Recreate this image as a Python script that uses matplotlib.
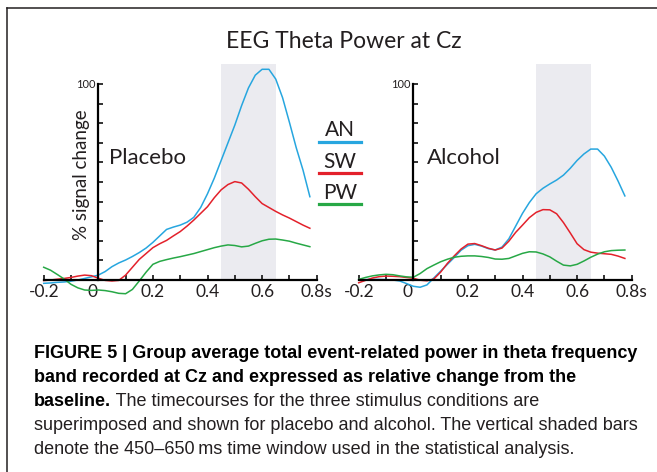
import matplotlib
matplotlib.use('Agg')
import matplotlib.pyplot as plt
from matplotlib.lines import Line2D
from matplotlib.transforms import ScaledTranslation
import numpy as np

# time axis (s), read every 25 ms from -0.2 to 0.775
t = np.round(np.arange(-0.2, 0.776, 0.025), 3)

# placebo
plc_an = [-1.7, -1.5, -1.2, -1.0, -0.6, 0.0, 0.8, 1.6, 2.5, 4.3, 6.8, 8.7, 10.2, 12, 14, 16.3,
          19.2, 22.5, 25.8, 27.0, 28, 29.5, 32, 37, 44, 52, 61, 70, 79, 89, 98, 104.5, 107.5,
          107.5, 102.5, 93, 80.5, 67.5, 56, 42.5]
plc_sw = [-0.3, 0.0, 0.4, 0.8, 1.3, 2.0, 2.5, 2.2, 0.9, -0.2, -0.5, -0.2, 2.5, 6.5, 10.5, 13.5,
          16.5, 18.5, 20.2, 22.5, 24.7, 27.5, 30.6, 34, 37.4, 42, 46, 48.7, 50.2, 49.5, 46.3,
          42.5, 39, 37, 35, 33.2, 31.6, 29.8, 28, 26.4]
plc_pw = [6.5, 5.0, 2.8, 0.5, -2.2, -4.0, -5.1, -5.3, -5.1, -5.4, -6.0, -6.8, -7.0, -4.8, -0.5,
          4.0, 8.0, 9.5, 10.4, 11.2, 11.9, 12.7, 13.5, 14.5, 15.5, 16.5, 17.3, 17.9, 17.6, 16.9,
          17.3, 18.7, 20, 20.8, 20.9, 20.4, 19.8, 18.8, 17.9, 17]

# alcohol
alc_an = [0, 0.2, 0.3, 0.3, 0.2, 0, -0.5, -1.8, -3.2, -3.7, -2.5, 1.0, 4.5, 8.0, 11.5, 15.2,
          17.5, 18.2, 17.3, 16.0, 15.3, 16.8, 21.0, 27.5, 34.0, 39.5, 44.0, 46.8, 49.0, 51.0,
          53.5, 57.0, 61.0, 64.3, 66.8, 66.8, 63.2, 57.5, 50.5, 42.9]
alc_sw = [-1.4, -0.2, 1.0, 1.7, 2.0, 1.9, 1.7, 1.3, 0.9, -0.1, -0.4, 0.5, 4.0, 8.5, 12.3, 15.8,
          18.3, 18.6, 17.5, 16.2, 15.3, 16.3, 19.8, 24.3, 28.0, 31.8, 34.5, 35.9, 35.8, 33.8,
          29.3, 24.0, 18.5, 15.5, 14.2, 13.7, 13.4, 13.1, 12.2, 11]
alc_pw = [0.3, 1.3, 2.1, 2.6, 2.9, 2.7, 2.1, 1.6, 1.4, 3.3, 5.8, 7.6, 9.3, 10.6, 11.6, 12.1,
          12.3, 12.3, 12.0, 11.5, 10.7, 10.6, 11.0, 12.3, 13.6, 14.4, 14.3, 13.3, 11.8, 9.6,
          7.6, 7.2, 8.0, 9.7, 11.6, 13.2, 14.4, 15.0, 15.2, 15.3]

conditions = ['AN', 'SW', 'PW']
colors = ['#27a6df', '#e3212b', '#27a846']
window = (0.45, 0.65)
xtick_vals = [-0.2, 0, 0.2, 0.4, 0.6, 0.8]
xtick_labels = ['-0.2', '0', '0.2', '0.4', '0.6', '0.8s']

FONT = ['Lato', 'DejaVu Sans']
CAPFONT = ['Liberation Sans Narrow', 'Liberation Sans', 'DejaVu Sans']

W, H = 657, 472
fig = plt.figure(figsize=(W / 100, H / 100), dpi=100)
fig.patch.set_facecolor('white')


def fx(x):
    return x / W


def fy(y):
    return 1 - y / H


def panel(x0, data, name, name_x):
    ax = fig.add_axes([fx(x0), fy(299.6), 273 / W, 235.2 / H])
    ax.set_xlim(-0.2, 0.8)
    ax.set_ylim(-10, 110)
    ax.fill_between(window, 0, 110, color='#ebebf0', lw=0, zorder=0)
    for vals, c in zip(data, colors):
        ax.plot(t, vals, color=c, lw=1.1, clip_on=False, zorder=3)
    for s in ['top', 'right']:
        ax.spines[s].set_visible(False)
    ax.spines['left'].set_position(('data', 0))
    ax.spines['bottom'].set_position(('data', 0))
    ax.spines['left'].set_bounds(0, 100)
    ax.spines['bottom'].set_bounds(-0.2, 0.8)
    for s in ['left', 'bottom']:
        ax.spines[s].set_linewidth(1.6)
        ax.spines[s].set_zorder(4)
    ax.set_xticks(xtick_vals)
    ax.set_xticklabels(xtick_labels, family=FONT, fontsize=12.5, color='#231f20')
    ax.set_xticks([-0.1, 0.1, 0.3, 0.5, 0.7], minor=True)
    ax.set_yticks(range(0, 101, 10))
    ax.set_yticklabels([''] * 10 + ['100'], family=FONT, fontsize=8, color='#231f20')
    ax.tick_params(axis='both', which='both', direction='in', length=3.5, width=1.2, color='#111111')
    ax.tick_params(axis='x', pad=3)
    ax.tick_params(axis='y', pad=2)
    # the "0" label sits a little left of the y axis
    zero = ax.get_xticklabels()[1]
    zero.set_transform(zero.get_transform() + ScaledTranslation(-6 / 100, 0, fig.dpi_scale_trans))
    ax.set_facecolor('none')
    fig.text(fx(name_x), fy(158), name, family=FONT, fontsize=16, color='#231f20',
             ha='left', va='center')
    return ax


panel(43.7, [plc_an, plc_sw, plc_pw], 'Placebo', 109)
panel(358.7, [alc_an, alc_sw, alc_pw], 'Alcohol', 427)

# title and y label
fig.text(fx(343.5), fy(42), 'EEG Theta Power at Cz', family=FONT, fontsize=16.5,
         color='#231f20', ha='center', va='center')
fig.text(fx(81.5), fy(175), '% signal change', family=FONT, fontsize=13.5, color='#231f20',
         rotation=90, ha='center', va='center')

# legend between the panels
for lab, c, ly in zip(conditions, colors, [141.5, 172.7, 204]):
    fig.add_artist(Line2D([fx(319), fx(361)], [fy(ly), fy(ly)], color=c, lw=2.3))
    fig.text(fx(340), fy(ly - 5), lab, family=FONT, fontsize=15, color='#231f20',
             ha='center', va='baseline')

# frame
fig.add_artist(Line2D([fx(7), fx(W)], [fy(8), fy(8)], color='#231f20', lw=1.1))
fig.add_artist(Line2D([fx(7), fx(7)], [fy(8), fy(H)], color='#231f20', lw=1.1))

# caption
cap_lines = [
    ('FIGURE 5 | Group average total event-related power in theta frequency', ''),
    ('band recorded at Cz and expressed as relative change from the', ''),
    ('baseline.', ' The timecourses for the three stimulus conditions are'),
    ('', 'superimposed and shown for placebo and alcohol. The vertical shaded bars'),
    ('', 'denote the 450\u2013650\u2009ms time window used in the statistical analysis.'),
]
baselines = [358, 382, 406, 430, 454]
renderer = fig.canvas.get_renderer()
for (bold, reg), by in zip(cap_lines, baselines):
    x = fx(34)
    if bold:
        tb = fig.text(x, fy(by), bold, family=CAPFONT, fontsize=13, weight='bold',
                      color='#000000', va='baseline')
        bb = tb.get_window_extent(renderer)
        x = (bb.x1) / (W)
    if reg:
        fig.text(x, fy(by), reg, family=CAPFONT, fontsize=13, color='#231f20', va='baseline')

fig.savefig('out.png', dpi=100)
